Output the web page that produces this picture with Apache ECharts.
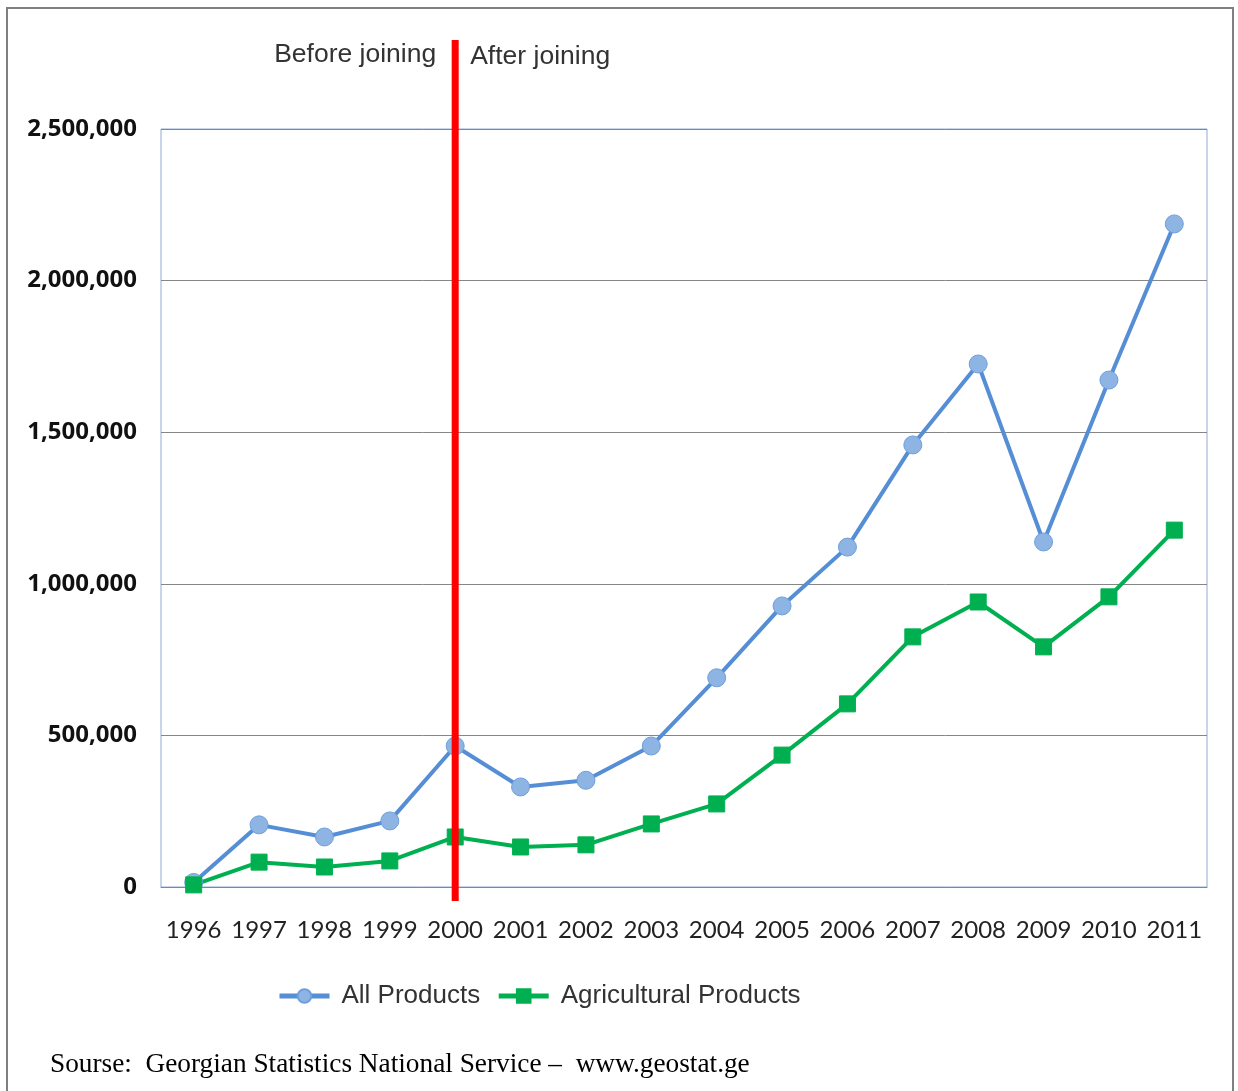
<!DOCTYPE html>
<html>
<head>
<meta charset="utf-8">
<script src="https://cdn.jsdelivr.net/npm/echarts@6/dist/echarts.min.js"></script>
<style>html,body{margin:0;padding:0;background:#fff}#c{width:1238px;height:1091px}</style>
</head>
<body>
<div id="c"></div>
<script>
var years = ['1996','1997','1998','1999','2000','2001','2002','2003','2004','2005','2006','2007','2008','2009','2010','2011'];
var allProducts = [15000, 205000, 165000, 218000, 465000, 330000, 352000, 465000, 690000, 927000, 1121000, 1458000, 1725000, 1138000, 1672000, 2187000];
var agriProducts = [7000, 82000, 66000, 86000, 165000, 132000, 139000, 208000, 274000, 435000, 604000, 825000, 940000, 792000, 957000, 1177000];
var joinYear = '2000';
var yTicks = [0, 500000, 1000000, 1500000, 2000000, 2500000];

var chart = echarts.init(document.getElementById('c'));
var option = {
  backgroundColor: '#ffffff',
  animation: false,
  grid: {left: 161, right: 31, top: 129, bottom: 204, show: true, borderColor: '#8EAADB', borderWidth: 1, backgroundColor: 'transparent'},
  legend: {
    data: ['All Products', 'Agricultural Products'],
    left: 272, top: 978,
    itemWidth: 50, itemHeight: 17, itemGap: 16,
    lineStyle: {width: 5},
    textStyle: {fontFamily: 'Liberation Sans', fontSize: 26, color: '#333333', padding: [0, 0, 0, 7]}
  },
  xAxis: {
    type: 'category', data: years, boundaryGap: true,
    axisLine: {lineStyle: {color: '#868686', width: 1}},
    axisTick: {show: false},
    axisLabel: {fontFamily: 'Lato', fontSize: 24, color: '#222222', margin: 31, interval: 0}
  },
  yAxis: {
    type: 'value', min: yTicks[0], max: yTicks[yTicks.length-1], interval: 500000,
    axisLine: {show: false}, axisTick: {show: false},
    splitLine: {lineStyle: {color: '#868686', width: 1}},
    axisLabel: {
      fontFamily: 'Open Sans', fontWeight: 'bold', fontSize: 24, color: '#111111', margin: 24,
      formatter: function(v){ return v.toLocaleString('en-US'); }
    }
  },
  series: [
    {
      name: 'All Products', type: 'line', data: allProducts,
      symbol: 'circle', symbolSize: 18,
      lineStyle: {color: '#558ED5', width: 4},
      itemStyle: {color: '#8DB4E2', borderColor: '#6E9FDC', borderWidth: 1}
    },
    {
      name: 'Agricultural Products', type: 'line', data: agriProducts,
      symbol: 'rect', symbolSize: 16,
      lineStyle: {color: '#00B050', width: 4},
      itemStyle: {color: '#00B050', borderColor: '#00B050', borderWidth: 1}
    }
  ]
};
chart.setOption(option);

var px = chart.convertToPixel({xAxisIndex: 0}, joinYear);
chart.setOption({
  graphic: [
    {type: 'rect', shape: {x: 7, y: 8, width: 1226, height: 1100}, style: {fill: 'none', stroke: '#7f7f7f', lineWidth: 2}, z: 0, silent: true},
    {type: 'line', shape: {x1: px, y1: 40, x2: px, y2: 901}, style: {stroke: '#FF0000', lineWidth: 7}, z: 100},
    {type: 'text', x: px - 19, y: 55, style: {text: 'Before joining', fontFamily: 'Liberation Sans', fontSize: 26.5, fill: '#333333', align: 'right', verticalAlign: 'middle'}, z: 100},
    {type: 'text', x: px + 15, y: 57, style: {text: 'After joining', fontFamily: 'Liberation Sans', fontSize: 26.5, fill: '#333333', align: 'left', verticalAlign: 'middle'}, z: 100},
    {type: 'text', x: 50, y: 1065, style: {text: 'Sourse:  Georgian Statistics National Service –  www.geostat.ge', fontFamily: 'Liberation Serif', fontSize: 27.3, fill: '#000000', align: 'left', verticalAlign: 'middle'}, z: 100}
  ]
});
</script>
</body>
</html>
